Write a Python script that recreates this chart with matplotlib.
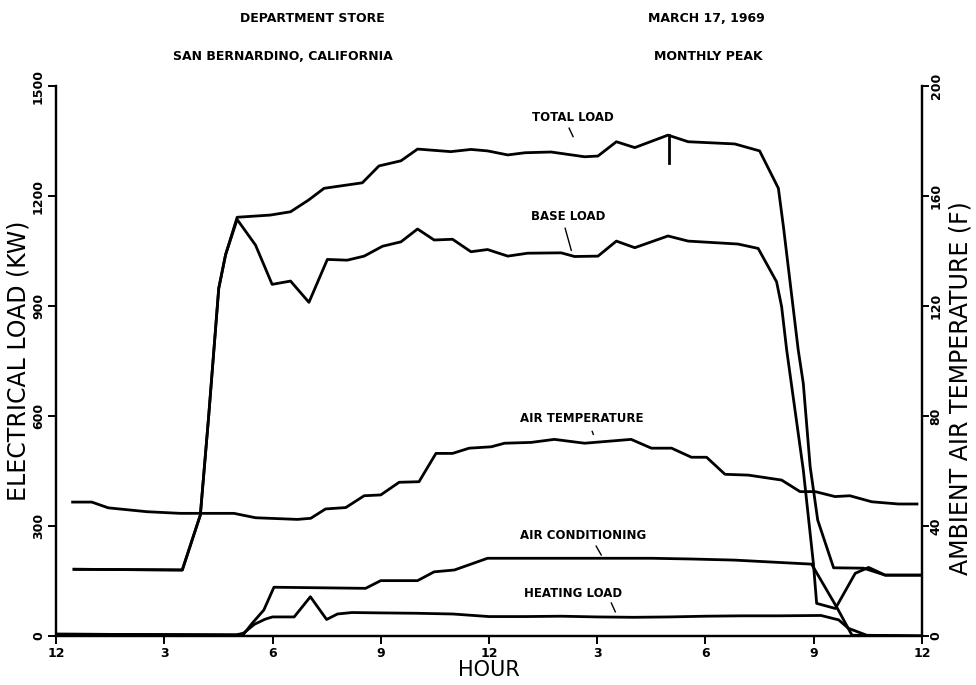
"""
Department store load profile, March 17 1969
"""
import matplotlib
matplotlib.use("Agg")
import matplotlib.pyplot as plt

#data (hour of day, kW / deg F)
total_hours = [0.5, 3.5, 4.0, 4.23, 4.51, 4.7, 5.02, 5.94, 6.5, 7.0, 7.43, 8.49,
               8.95, 9.56, 10.02, 10.94, 11.5, 11.96, 12.52, 13.0, 13.72, 14.65,
               15.02, 15.53, 16.04, 16.96, 17.52, 18.81, 19.5, 20.02, 20.16,
               20.57, 20.71, 20.9, 21.11, 21.55, 22.38, 22.98, 24.0]
total_load = [182, 180, 330, 598, 948, 1040, 1142, 1148, 1157, 1189, 1221, 1236,
              1282, 1296, 1328, 1321, 1327, 1323, 1312, 1318, 1320, 1307,
              1309, 1348, 1332, 1366, 1348, 1342, 1323, 1221, 1116,
              780, 689, 462, 316, 186, 185, 166, 166]

base_hours = [0.5, 3.5, 4.0, 4.23, 4.51, 4.7, 5.02, 5.53, 5.99, 6.5, 7.01, 7.52,
              8.07, 8.54, 9.05, 9.56, 10.02, 10.48, 10.99, 11.5, 11.96, 12.52,
              13.07, 14.0, 14.37, 15.02, 15.53, 16.04, 16.96, 17.52, 18.9, 19.46,
              19.97, 20.11, 20.25, 20.71, 20.99, 21.08, 21.6, 22.15, 22.52,
              22.98, 24.0]
base_load = [182, 180, 330, 598, 948, 1040, 1136, 1066, 959, 968, 910, 1027,
             1025, 1036, 1063, 1075, 1110, 1080, 1082, 1048, 1054, 1036,
             1044, 1045, 1035, 1036, 1077, 1059, 1091, 1077, 1069, 1057,
             966, 898, 780, 453, 198, 89, 75, 171, 187,
             166, 166]

ac_hours = [0, 5.0, 5.2, 5.44, 5.76, 6.04, 8.58, 9.0, 10.02, 10.48, 11.04, 11.96,
            13.17, 15.0, 16.5, 17.61, 18.8, 20.94, 21.64, 22.06, 24.0]
ac_load = [5, 3, 5, 35, 71, 133, 130, 151, 151, 175, 180, 212,
           212, 212, 212, 210, 207, 196, 78, 2, 0]

heat_hours = [0, 5.0, 5.2, 5.5, 5.8, 6.0, 6.6, 7.05, 7.5, 7.8, 8.2, 9, 10, 11, 12,
              13, 14, 15, 16, 17, 18, 19, 20, 21.2, 21.69, 21.96, 22.47, 24.0]
heat_load = [5, 3, 8, 32, 46, 52, 52, 107, 45, 60, 64, 63, 62, 60, 53,
             53, 54, 52, 51, 52, 54, 55, 55, 56, 44, 21, 2, 0]

temp_hours = [0.46, 0.99, 1.45, 2.52, 3.44, 4.93, 5.53, 6.69, 7.06, 7.47, 8.03,
              8.54, 9.0, 9.51, 10.06, 10.53, 10.99, 11.45, 12.06, 12.43, 13.17,
              13.81, 14.65, 15.94, 16.5, 17.06, 17.61, 18.03, 18.54, 19.19,
              20.11, 20.62, 21.04, 21.59, 22.0, 22.61, 23.35, 23.86]
air_temp = [48.7, 48.7, 46.6, 45.2, 44.6, 44.6, 43.0, 42.4, 42.8, 46.2, 46.7,
            51.0, 51.3, 55.9, 56.1, 66.4, 66.4, 68.3, 68.8, 70.1, 70.4,
            71.5, 70.1, 71.5, 68.3, 68.3, 65.0, 65.0, 58.8, 58.5,
            56.7, 52.5, 52.5, 50.7, 51.0, 48.8, 48.0, 48.0]

#monthly peak marker
peak_hour = 16.98
peak_range = [1366, 1290]

#axis ticks
hour_ticks = [0, 3, 6, 9, 12, 15, 18, 21, 24]
hour_labels = ["12", "3", "6", "9", "12", "3", "6", "9", "12"]
load_ticks = [0, 300, 600, 900, 1200, 1500]
temp_ticks = [0, 40, 80, 120, 160, 200]

#curve labels: text, text position, leader start, leader end
curve_labels = [
    ("TOTAL LOAD", (14.33, 1413), (14.22, 1385), (14.33, 1362)),
    ("BASE LOAD", (14.19, 1145), (14.11, 1112), (14.28, 1052)),
    ("AIR TEMPERATURE", (14.58, 592), (14.86, 558), (14.89, 550)),
    ("AIR CONDITIONING", (14.61, 275), (14.97, 245), (15.11, 221)),
    ("HEATING LOAD", (14.33, 117), (15.39, 90), (15.5, 66)),
]

fig = plt.figure(figsize=(9.76, 6.85), dpi=100)
ax = fig.add_axes([56 / 976, 49 / 685, 866 / 976, 550 / 685])
ax2 = ax.twinx()

line_style = dict(color="black", lw=2.0, solid_joinstyle="round")
ax.plot(total_hours, total_load, **line_style)
ax.plot(base_hours, base_load, **line_style)
ax.plot(ac_hours, ac_load, **line_style)
ax.plot(heat_hours, heat_load, **line_style)
ax.plot([peak_hour, peak_hour], peak_range, **line_style)
ax2.plot(temp_hours, air_temp, **line_style)

for text, pos, start, end in curve_labels:
    ax.text(pos[0], pos[1], text, ha="center", va="center",
            fontsize=8.5, fontweight="bold")
    ax.plot([start[0], end[0]], [start[1], end[1]], color="black", lw=1.0)

#axes
ax.set_xlim(0, 24)
ax.set_ylim(0, 1500)
ax2.set_ylim(0, 200)
ax.set_xticks(hour_ticks)
ax.set_xticklabels(hour_labels, fontsize=9, fontweight="bold")
ax.set_yticks(load_ticks)
ax.set_yticklabels([str(v) for v in load_ticks], fontsize=9,
                   fontweight="bold", rotation=90, va="center")
ax2.set_yticks(temp_ticks)
ax2.set_yticklabels([str(v) for v in temp_ticks], fontsize=9,
                    fontweight="bold", rotation=90, va="center")

for a in (ax, ax2):
    a.spines["top"].set_visible(False)
    for side in ("left", "right", "bottom"):
        a.spines[side].set_linewidth(1.6)
    a.tick_params(direction="out", length=6, width=1.4, pad=2)
ax2.tick_params(axis="y", length=5, pad=0.5)

ax.set_xlabel("HOUR", fontsize=15, labelpad=0)
ax.set_ylabel("ELECTRICAL LOAD (KW)", fontsize=17, labelpad=1)
ax2.set_ylabel("AMBIENT AIR TEMPERATURE (F)", fontsize=17)
ax2.yaxis.set_label_coords(1.031, 0.45)

#header
fig.text(312 / 976, 1 - 18 / 685, "DEPARTMENT STORE", ha="center", va="center",
         fontsize=9, fontweight="bold")
fig.text(706 / 976, 1 - 18 / 685, "MARCH 17, 1969", ha="center", va="center",
         fontsize=9, fontweight="bold")
fig.text(283 / 976, 1 - 56 / 685, "SAN BERNARDINO, CALIFORNIA", ha="center",
         va="center", fontsize=9, fontweight="bold")
fig.text(708 / 976, 1 - 56 / 685, "MONTHLY PEAK", ha="center", va="center",
         fontsize=9, fontweight="bold")

fig.savefig("out.png", dpi=100)
